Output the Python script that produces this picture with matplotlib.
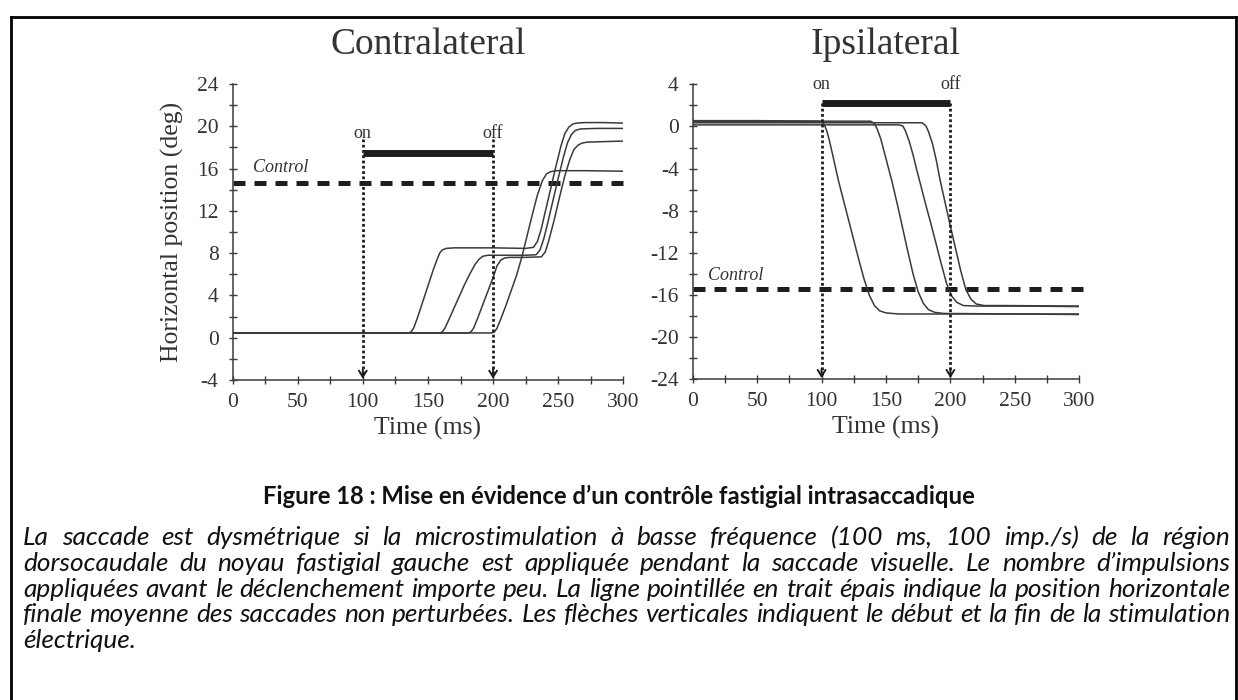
import matplotlib
matplotlib.use('Agg')
import matplotlib.pyplot as plt
from matplotlib.lines import Line2D

# ---------------- data ----------------
# Contralateral traces: time (ms) / horizontal position (deg)
c1_t = [0, 60, 120, 135, 137, 139, 142, 146, 150, 154, 157, 159, 161, 164, 170, 200, 225, 231, 234, 237, 240, 244, 248, 252, 255, 258, 261, 264, 270, 285, 300]
c1_y = [0.45, 0.45, 0.45, 0.45, 0.55, 0.9, 1.9, 3.4, 4.9, 6.4, 7.4, 8.0, 8.3, 8.45, 8.5, 8.5, 8.45, 8.55, 9.1, 10.3, 11.9, 14.0, 16.1, 18.1, 19.3, 19.9, 20.2, 20.3, 20.35, 20.35, 20.3]
c2_t = [0, 60, 120, 159, 161, 163, 166, 170, 174, 178, 182, 186, 189, 192, 196, 205, 225, 233, 236, 239, 242, 246, 250, 254, 257, 260, 263, 267, 280, 300]
c2_y = [0.45, 0.45, 0.45, 0.45, 0.55, 0.9, 1.7, 2.8, 3.9, 5.0, 6.0, 6.9, 7.4, 7.7, 7.8, 7.8, 7.8, 7.85, 8.3, 9.4, 10.9, 13.0, 15.1, 17.1, 18.4, 19.2, 19.6, 19.75, 19.8, 19.8]
c3_t = [0, 60, 120, 181, 183, 185, 188, 192, 196, 200, 203, 206, 209, 213, 225, 237, 240, 243, 247, 251, 255, 259, 262, 265, 268, 272, 285, 300]
c3_y = [0.45, 0.45, 0.45, 0.45, 0.55, 0.9, 1.8, 3.1, 4.4, 5.7, 6.8, 7.35, 7.55, 7.6, 7.6, 7.65, 8.1, 9.3, 11.2, 13.3, 15.3, 16.9, 17.8, 18.2, 18.4, 18.5, 18.55, 18.6]
c4_t = [0, 60, 120, 199, 201, 203, 206, 210, 214, 218, 222, 226, 230, 234, 238, 241, 244, 248, 255, 270, 300]
c4_y = [0.45, 0.45, 0.45, 0.45, 0.55, 0.9, 1.8, 3.1, 4.5, 5.9, 7.6, 9.6, 11.6, 13.5, 14.9, 15.5, 15.7, 15.8, 15.8, 15.8, 15.75]

# Ipsilateral traces
i1_t = [0, 50, 98, 100, 102, 104, 106, 109, 113, 117, 121, 125, 129, 133, 137, 141, 145, 150, 160, 200, 250, 300]
i1_y = [0.55, 0.55, 0.5, 0.45, 0.2, -0.4, -1.3, -2.9, -5.1, -7.0, -8.9, -10.8, -12.7, -14.5, -16.0, -17.0, -17.5, -17.7, -17.8, -17.8, -17.8, -17.85]
i2_t = [0, 50, 100, 138, 141, 143, 146, 149, 152, 155, 159, 163, 167, 171, 175, 179, 183, 188, 195, 250, 300]
i2_y = [0.5, 0.5, 0.5, 0.5, 0.3, -0.2, -1.2, -2.6, -4.0, -5.4, -7.5, -9.7, -11.9, -14.0, -15.7, -16.8, -17.4, -17.65, -17.75, -17.8, -17.8]
i3_t = [0, 50, 100, 160, 163, 165, 168, 171, 174, 177, 181, 185, 189, 193, 197, 201, 205, 210, 220, 260, 300]
i3_y = [0.15, 0.15, 0.15, 0.15, 0.05, -0.4, -1.4, -2.7, -4.2, -5.6, -7.5, -9.3, -11.2, -13.1, -14.9, -16.1, -16.7, -17.0, -17.05, -17.05, -17.1]
i4_t = [0, 50, 100, 178, 181, 183, 186, 189, 192, 196, 200, 204, 208, 212, 216, 220, 226, 240, 300]
i4_y = [0.35, 0.35, 0.35, 0.35, 0.05, -0.5, -1.6, -3.2, -5.1, -7.3, -9.5, -11.6, -13.7, -15.5, -16.4, -16.85, -17.0, -17.0, -17.05]

stim_on, stim_off = 100, 200
contra_control = 14.6
ipsi_control = -15.45
contra_bar = 17.5
ipsi_bar = 2.25

x_major = [0, 50, 100, 150, 200, 250, 300]
x_minor = [25, 75, 125, 175, 225, 275]
contra_yticks = [-4, 0, 4, 8, 12, 16, 20, 24]
contra_yminor = [-2, 2, 6, 10, 14, 18, 22]
ipsi_yticks = [-24, -20, -16, -12, -8, -4, 0, 4]
ipsi_yminor = [-22, -18, -14, -10, -6, -2, 2]

titles = ["Contralateral", "Ipsilateral"]
xlabel = "Time (ms)"
ylabel = "Horizontal position (deg)"
caption_title = "Figure 18 : Mise en évidence d’un contrôle fastigial intrasaccadique"
caption_lines = [
    "La saccade est dysmétrique si la microstimulation à basse fréquence (100 ms, 100 imp./s) de la région",
    "dorsocaudale du noyau fastigial gauche est appliquée pendant la saccade visuelle. Le nombre d’impulsions",
    "appliquées avant le déclenchement importe peu. La ligne pointillée en trait épais indique la position horizontale",
    "finale moyenne des saccades non perturbées. Les flèches verticales indiquent le début et la fin de la stimulation",
    "électrique.",
]

# ---------------- figure ----------------
W, H = 1238, 700
SERIF = ['Liberation Serif', 'DejaVu Serif']
CAP = ['Lato', 'DejaVu Sans']
plt.rcParams['font.family'] = SERIF
plt.rcParams['axes.unicode_minus'] = False

fig = plt.figure(figsize=(W / 100, H / 100), dpi=100)
fig.patch.set_facecolor('white')

def px_rect(x0, x1, ytop, ybot):
    return [x0 / W, 1 - ybot / H, (x1 - x0) / W, (ybot - ytop) / H]

AX = '#3c3c3c'
TR = '#3a3a3a'
DK = '#1e1e1e'

axL = fig.add_axes(px_rect(232.5, 623.4, 84.0, 380.0))
axR = fig.add_axes(px_rect(692.7, 1079.3, 84.3, 379.3))

def style(ax, ylim, ymaj, ymin):
    ax.set_xlim(0, 300)
    ax.set_ylim(*ylim)
    for s in ['top', 'right']:
        ax.spines[s].set_visible(False)
    for s in ['left', 'bottom']:
        ax.spines[s].set_color(AX)
        ax.spines[s].set_linewidth(1.1)
    ax.set_xticks(x_major)
    ax.set_xticklabels([str(v) for v in x_major])
    ax.set_xticks(x_minor, minor=True)
    ax.set_yticks(ymaj)
    ax.set_yticklabels([str(v) for v in ymaj])
    ax.set_yticks(ymin, minor=True)
    ax.tick_params(which='both', direction='inout', length=6, width=1.0, color=AX)
    ax.tick_params(axis='y', which='major', labelsize=15.5, labelcolor='#333333', pad=7)
    ax.tick_params(axis='x', which='major', labelsize=15.5, labelcolor='#333333', pad=6.5)
    ax.set_xlabel(xlabel, fontsize=18.5, color='#333333', labelpad=3.5)
    ax.patch.set_alpha(0)

style(axL, (-4, 24), contra_yticks, contra_yminor)
style(axR, (-24, 4), ipsi_yticks, ipsi_yminor)
axL.set_ylabel(ylabel, fontsize=18.5, color='#333333', labelpad=9)

for t, y in [(c1_t, c1_y), (c2_t, c2_y), (c3_t, c3_y), (c4_t, c4_y)]:
    axL.plot(t, y, color=TR, lw=1.1, solid_joinstyle='round', zorder=3)
for t, y in [(i1_t, i1_y), (i2_t, i2_y), (i3_t, i3_y), (i4_t, i4_y)]:
    axR.plot(t, y, color=TR, lw=1.1, solid_joinstyle='round', zorder=3)

def stim(ax, bar_y, top_y, bottom_y, label_y):
    ax.plot([stim_on, stim_off], [bar_y, bar_y], color=DK, lw=5.0,
            solid_capstyle='butt', zorder=4)
    for x in (stim_on, stim_off):
        ax.plot([x, x], [top_y, bottom_y + 0.45], color=DK, lw=2.0,
                linestyle=(0, (1, 0.9)), zorder=4, clip_on=False)
        ax.annotate('', xy=(x, bottom_y + 0.12), xytext=(x, bottom_y + 1.0),
                    arrowprops=dict(arrowstyle='->,head_length=0.45,head_width=0.28',
                                    lw=1.4, color=DK, shrinkA=0, shrinkB=0),
                    annotation_clip=False, zorder=5)
    ax.text(stim_on, label_y, 'on', ha='center', va='baseline', fontsize=13, color='#333333')
    ax.text(stim_off, label_y, 'off', ha='center', va='baseline', fontsize=13, color='#333333')

stim(axL, contra_bar, 18.75, -4, 18.86)
stim(axR, ipsi_bar, ipsi_bar, -24, 3.55)

axL.plot([0, 300], [contra_control] * 2, color=DK, lw=3.6, dashes=(2.4, 1.8),
         solid_capstyle='butt', dash_capstyle='butt', zorder=2, clip_on=False)
axR.plot([0, 304], [ipsi_control] * 2, color=DK, lw=3.6, dashes=(2.4, 1.8),
         solid_capstyle='butt', dash_capstyle='butt', zorder=2, clip_on=False)
axL.text(16, 15.65, 'Control', style='italic', fontsize=13, color='#333333', va='baseline')
axR.text(12, -14.57, 'Control', style='italic', fontsize=13, color='#333333', va='baseline')

fig.text(428 / W, 1 - 45 / H, titles[0], ha='center', va='center', fontsize=27, color='#333333')
fig.text(886 / W, 1 - 45 / H, titles[1], ha='center', va='center', fontsize=27, color='#333333')

# ---------------- border ----------------
bx0, by0, bx1 = 10.5, 16.5, 1236.0
for xs, ys in [([bx0, bx0], [by0, H + 5]), ([bx0, bx1], [by0, by0]), ([bx1, bx1], [by0, H + 5])]:
    fig.add_artist(Line2D([x / W for x in xs], [1 - y / H for y in ys], color='black',
                          lw=2.0, transform=fig.transFigure, solid_capstyle='projecting'))

# ---------------- caption ----------------
renderer = fig.canvas.get_renderer()

def width_of(s, **kw):
    t = fig.text(0, 0, s, **kw)
    w = t.get_window_extent(renderer).width
    t.remove()
    return w

# title: bold, centered
tkw = dict(family=CAP, weight='bold')
tw = width_of(caption_title, fontsize=20, **tkw)
tsize = 20 * 713.0 / tw
fig.text(619 / W, 1 - 504 / H, caption_title, ha='center', va='baseline',
         fontsize=tsize, color='#111111', **tkw)

# body: italic, justified
left_px, right_px = 23.0, 1230.0
avail = right_px - left_px
bkw = dict(family=CAP, style='italic')
natural = [width_of(l, fontsize=20, **bkw) for l in caption_lines[:-1]]
bsize = 20 * avail / max(natural) * 0.995
baselines = [545, 570.8, 596.6, 622.4, 648.2]
for i, line in enumerate(caption_lines):
    yb = 1 - baselines[i] / H
    if i == len(caption_lines) - 1:
        fig.text(left_px / W, yb, line, ha='left', va='baseline', fontsize=bsize,
                 color='#111111', **bkw)
        continue
    words = line.split(' ')
    ws = [width_of(w, fontsize=bsize, **bkw) for w in words]
    gap = (avail - sum(ws)) / (len(words) - 1)
    x = left_px
    for w, wd in zip(words, ws):
        fig.text(x / W, yb, w, ha='left', va='baseline', fontsize=bsize,
                 color='#111111', **bkw)
        x += wd + gap

fig.savefig('out.png', dpi=100, facecolor='white')
